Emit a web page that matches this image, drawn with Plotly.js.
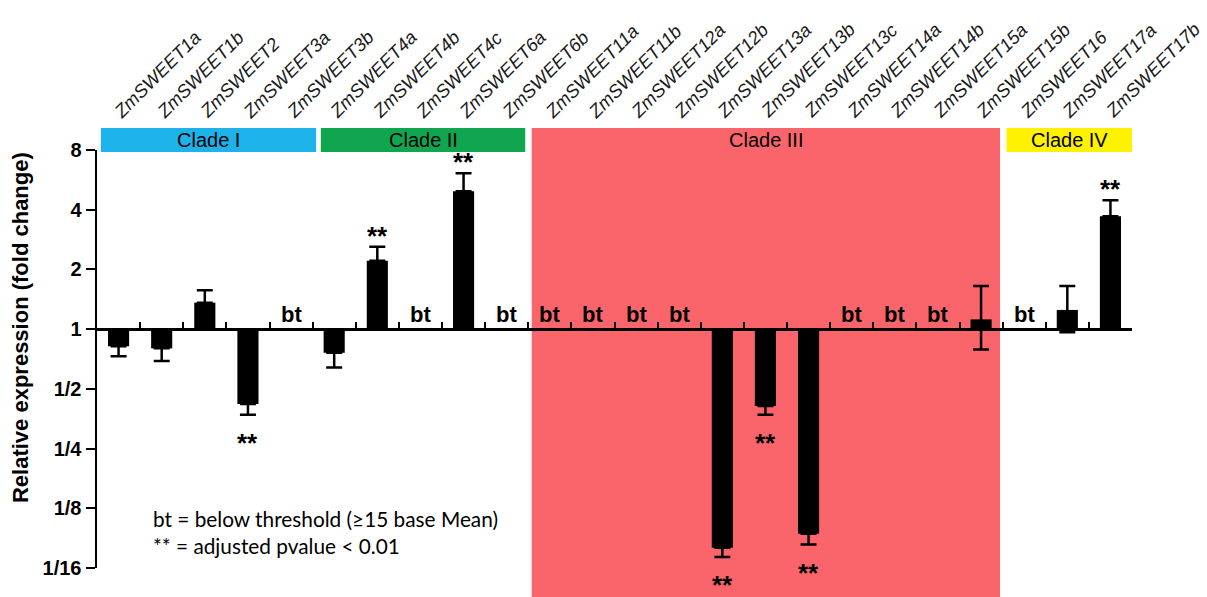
<!DOCTYPE html>
<html>
<head>
<meta charset="utf-8">
<script src="https://cdn.plot.ly/plotly-3.0.1.min.js"></script>
<style>html,body{margin:0;padding:0;background:#fff;}#chart{width:1207px;height:597px;}</style>
</head>
<body>
<div id="chart"></div>
<script>
// ---- data ----
const genes = ["ZmSWEET1a","ZmSWEET1b","ZmSWEET2","ZmSWEET3a","ZmSWEET3b","ZmSWEET4a","ZmSWEET4b","ZmSWEET4c","ZmSWEET6a","ZmSWEET6b","ZmSWEET11a","ZmSWEET11b","ZmSWEET12a","ZmSWEET12b","ZmSWEET13a","ZmSWEET13b","ZmSWEET13c","ZmSWEET14a","ZmSWEET14b","ZmSWEET15a","ZmSWEET15b","ZmSWEET16","ZmSWEET17a","ZmSWEET17b"];
// fold change (null = below threshold, "bt")
const foldChange = [0.82,0.80,1.36,0.42,null,0.76,2.21,null,4.96,null,null,null,null,null,0.079,0.41,0.093,null,null,null,1.12,null,1.25,3.71];
// whisker ends (fold change)
const whiskerHigh = [null,null,1.57,null,null,null,2.60,null,6.10,null,null,null,null,null,null,null,null,null,null,null,1.65,null,1.65,4.47];
const whiskerLow  = [0.73,0.69,null,0.37,null,0.64,null,null,null,null,null,null,null,null,0.071,0.37,0.082,null,null,null,0.79,null,0.965,null];
const significant = [false,false,false,true,false,false,true,false,true,false,false,false,false,false,true,true,true,false,false,false,false,false,false,true];
const cladeNames  = ["Clade I","Clade II","Clade III","Clade IV"];
const cladeFirst  = ["ZmSWEET1a","ZmSWEET4a","ZmSWEET11a","ZmSWEET16"];
const cladeLast   = ["ZmSWEET3b","ZmSWEET6b","ZmSWEET15b","ZmSWEET17b"];
const yTickVals = [3,2,1,0,-1,-2,-3,-4];
const yTickText = ["8","4","2","1","1/2","1/4","1/8","1/16"];
const legendLines = ["bt = below threshold (\u226515 base Mean)","** = adjusted pvalue < 0.01"];

// ---- styles ----
const cladeStyle = [
  {color:"#1db3ea", pad0:0.41, pad1:0.58, tall:false},
  {color:"#10a650", pad0:0.31, pad1:0.43, tall:false},
  {color:"#f9656b", pad0:0.42, pad1:0.44, tall:true},
  {color:"#fff200", pad0:0.41, pad1:0.53, tall:false}
];

// ---- derived ----
const log2 = v => (v === null ? null : Math.log2(v));
const yVals = foldChange.map(log2);
const errPlus = foldChange.map((v,i)=> (v!==null && whiskerHigh[i]!==null) ? Math.log2(whiskerHigh[i]) - Math.log2(v) : 0);
const errMinus = foldChange.map((v,i)=> (v!==null && whiskerLow[i]!==null) ? Math.log2(v) - Math.log2(whiskerLow[i]) : 0);

const trace = {
  type:"bar", x:genes, y:yVals, width:0.49,
  marker:{color:"#000"},
  error_y:{type:"data", symmetric:false, array:errPlus, arrayminus:errMinus, color:"#000", thickness:2.5, width:8},
  hoverinfo:"skip"
};

const Y_MIN=-4, Y_MAX=3;
const idx = g => genes.indexOf(g);

const shapes = [];
const annotations = [];
cladeNames.forEach((name,k)=>{
  const s = cladeStyle[k];
  const x0 = idx(cladeFirst[k]) - s.pad0, x1 = idx(cladeLast[k]) + s.pad1;
  shapes.push({type:"rect", xref:"x", yref:"paper", x0:x0, x1:x1,
    y0: s.tall ? -0.075 : 0.9952, y1: 1.0526, fillcolor:s.color, line:{width:0}, layer:"below"});
  annotations.push({xref:"x", yref:"paper", x:(x0+x1)/2, y:1.0235,
    text:name, showarrow:false, xanchor:"center", yanchor:"middle",
    font:{family:"Arial, Liberation Sans", size:20, color:"#000"}});
});

genes.forEach((g,i)=>{
  annotations.push({xref:"x", yref:"paper", x:i, y:1.06, xshift:-12, text:g, showarrow:false,
    textangle:-45, xanchor:"left", yanchor:"bottom",
    font:{family:"Arial, Liberation Sans", size:18.5, color:"#1a1a1a", style:"italic"}});
  if (foldChange[i] === null) {
    annotations.push({xref:"x", yref:"y", x:i, y:0, yshift:0, text:"bt", showarrow:false,
      xanchor:"center", yanchor:"bottom", font:{family:"Arial, Liberation Sans", size:22, color:"#000", weight:"bold"}});
  }
  if (significant[i]) {
    const up = foldChange[i] > 1;
    const yEnd = up ? Math.log2(whiskerHigh[i]) : Math.log2(whiskerLow[i]);
    annotations.push({xref:"x", yref:"y", x:i, y:yEnd, yshift: up ? 28 : -11, text:"**", showarrow:false,
      xanchor:"center", yanchor:"top", valign:"top", height:20,
      font:{family:"Arial, Liberation Sans", size:26, color:"#000", weight:"bold"}});
  }
});

annotations.push({xref:"paper", yref:"paper", x:-0.074, y:0.575, text:"Relative expression (fold change)",
  textangle:-90, showarrow:false, xanchor:"center", yanchor:"middle",
  font:{family:"Arial, Liberation Sans", size:22, color:"#000", weight:"bold"}});
annotations.push({xref:"paper", yref:"paper", x:0.052, y:0.153, text:legendLines.join("<br>"),
  showarrow:false, xanchor:"left", yanchor:"top", align:"left",
  font:{family:"Lato, Open Sans", size:20.8, color:"#000"}});

const layout = {
  width:1207, height:597, autosize:false,
  margin:{l:97, r:75, t:150, b:29, pad:0},
  paper_bgcolor:"#fff", plot_bgcolor:"rgba(0,0,0,0)",
  showlegend:false,
  xaxis:{type:"category", range:[-0.5, genes.length-0.5], anchor:"free", position:(0-Y_MIN)/(Y_MAX-Y_MIN),
    showline:true, linecolor:"#000", linewidth:2.5, ticks:"inside", tickson:"boundaries", ticklen:6, tickwidth:2,
    tickcolor:"#000", showticklabels:false, showgrid:false, zeroline:false, fixedrange:true},
  yaxis:{range:[Y_MIN, Y_MAX], tickvals:yTickVals, ticktext:yTickText, showline:true, linecolor:"#000", linewidth:2.5,
    ticks:"outside", ticklen:9, tickwidth:2, tickcolor:"#000", showgrid:false, zeroline:false,
    tickfont:{family:"Arial, Liberation Sans", size:20, color:"#000", weight:"bold"}, fixedrange:true},
  shapes:shapes, annotations:annotations
};

Plotly.newPlot("chart", [trace], layout, {displayModeBar:false, staticPlot:true});
</script>
</body>
</html>
